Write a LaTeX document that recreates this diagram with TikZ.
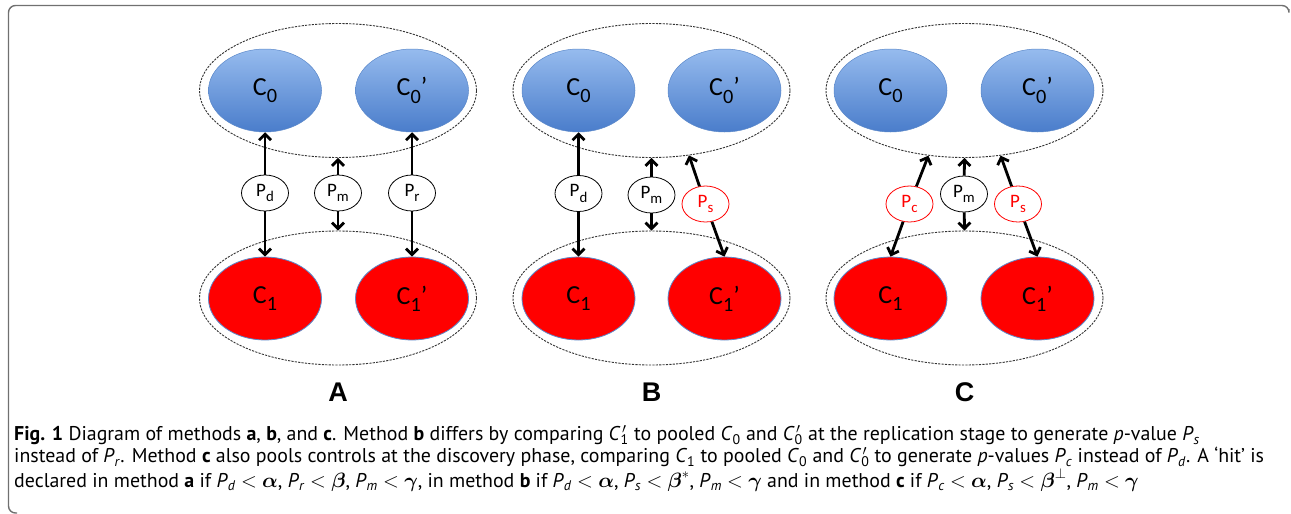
\documentclass[tikz,border=0pt]{standalone}
\usepackage{fontspec}
\usepackage{amsmath}
\setmainfont{PT Sans}
\newfontfamily\labfont{Carlito}
\newfontfamily\bigfont{Liberation Sans}
\usetikzlibrary{shapes.geometric,arrows.meta}
\definecolor{blueT}{HTML}{96BBEE}
\definecolor{blueB}{HTML}{4A7DCB}
\definecolor{blueE}{HTML}{5B88C9}
\definecolor{frameG}{HTML}{707070}
\newcommand{\Pv}[1]{\textit{P}\textsubscript{\textit{#1}}}
\newcommand{\Cz}[1]{\textit{C}\textsubscript{#1}}
\newcommand{\Cpr}[1]{\textit{C}\rlap{\textsuperscript{\kern0.1em$\prime$}}\textsubscript{#1}}
\newcommand{\lsub}[1]{\raisebox{-0.28em}{\scalebox{0.78}{#1}}}
\newcommand{\Lab}[1]{C\lsub{#1}}
\tikzset{
  grp/.style={ellipse, draw=black!80, dash pattern=on 2.2pt off 1.2pt, line width=0.9pt, minimum width=277pt, minimum height=134pt, inner sep=0pt},
  ctl/.style={ellipse, draw=blueE, line width=0.5pt, top color=blueT, bottom color=blueB, minimum width=113pt, minimum height=83pt, inner sep=0pt, font=\labfont\fontsize{26}{26}\selectfont},
  cas/.style={ellipse, draw=blueE, line width=0.8pt, fill=red, minimum width=113pt, minimum height=83pt, inner sep=0pt, font=\labfont\fontsize{26}{26}\selectfont},
  pv/.style={ellipse, draw=black, line width=0.8pt, fill=white, minimum width=47pt, minimum height=36pt, inner sep=0pt, font=\labfont\fontsize{19}{19}\selectfont},
  pvr/.style={pv, draw=red, text=red},
  arr/.style={line width=2.8pt, -{Straight Barb[length=6pt,width=12pt]}},
  panellab/.style={font=\bigfont\bfseries\fontsize{27}{27}\selectfont, anchor=base},
  captext/.style={anchor=base west, inner sep=0pt, align=left, font=\fontsize{19.9}{22}\selectfont},
}
\begin{document}
\begin{tikzpicture}[x=1pt,y=-1pt]
\useasboundingbox (0,0) rectangle (1291,514);
% frame
\draw[frameG, line width=1.4pt, rounded corners=7pt] (17,513) -- (8.5,513) -- (8.5,5.5) -- (1289,5.5) -- (1289,9);

% ---------- Panel A ----------
\node[grp] (topA) at (338,90.5) {};
\node[grp] (botA) at (338,298) {};
\node[ctl] (c0A) at (265,90.5) {\Lab{0}};
\node[ctl] (c0pA) at (412,90.5) {\Lab{0}’};
\node[cas] (c1A) at (265,298.5) {\Lab{1}};
\node[cas] (c1pA) at (412,298.5) {\Lab{1}’};
\node[pv] (pdA) at (265,193) {P\lsub{d}};
\node[pv] (pmA) at (338,193) {P\lsub{m}};
\node[pv] (prA) at (412,193) {P\lsub{r}};
\draw[arr] (pdA) -- (c0A.south);
\draw[arr] (pdA) -- (c1A.north);
\draw[arr] (pmA) -- (topA.south);
\draw[arr] (pmA) -- (botA.north);
\draw[arr] (prA) -- (c0pA.south);
\draw[arr] (prA) -- (c1pA.north);
\node[panellab] (labA) at (338,401) {A};

% ---------- Panel B ----------
\node[grp] (topB) at (651.5,90.5) {};
\node[grp] (botB) at (651.5,298) {};
\node[ctl] (c0B) at (578.5,90.5) {\Lab{0}};
\node[ctl] (c0pB) at (724.5,90.5) {\Lab{0}’};
\node[cas] (c1B) at (578.5,298.5) {\Lab{1}};
\node[cas] (c1pB) at (724.5,298.5) {\Lab{1}’};
\node[pv] (pdB) at (578.5,193.5) {P\lsub{d}};
\node[pv] (pmB) at (651.5,195) {P\lsub{m}};
\node[pvr] (psB) at (705.5,204) {P\lsub{s}};
\draw[arr] (pdB) -- (c0B.south);
\draw[arr] (pdB) -- (c1B.north);
\draw[arr] (pmB) -- (topB.south);
\draw[arr] (pmB) -- (botB.north);
\draw[arr] (psB) -- (topB.-60);
\draw[arr] (psB) -- (c1pB.north);
\node[panellab] (labB) at (651.5,401) {B};

% ---------- Panel C ----------
\node[grp] (topC) at (964.5,90.5) {};
\node[grp] (botC) at (964.5,298) {};
\node[ctl] (c0C) at (890.5,90.5) {\Lab{0}};
\node[ctl] (c0pC) at (1037.5,90.5) {\Lab{0}’};
\node[cas] (c1C) at (890.5,298.5) {\Lab{1}};
\node[cas] (c1pC) at (1037.5,298.5) {\Lab{1}’};
\node[pvr] (pcC) at (909.5,204) {P\lsub{c}};
\node[pv] (pmC) at (964,194) {P\lsub{m}};
\node[pvr] (psC) at (1018,204) {P\lsub{s}};
\draw[arr] (pcC) -- (topC.-119);
\draw[arr] (pcC) -- (c1C.north);
\draw[arr] (pmC) -- (topC.south);
\draw[arr] (pmC) -- (botC.north);
\draw[arr] (psC) -- (topC.-61);
\draw[arr] (psC) -- (c1pC.north);
\node[panellab] (labC) at (964.5,401) {C};

% ---------- caption ----------
\node[captext] (caption) at (14,487) {\textbf{Fig. 1} Diagram of methods \textbf{a}, \textbf{b}, and \textbf{c}. Method \textbf{b} differs by comparing \Cpr{1} to pooled \Cz{0} and \Cpr{0} at the replication stage to generate \textit{p}-value \Pv{s}\\
instead of \Pv{r}. Method \textbf{c} also pools controls at the discovery phase, comparing \Cz{1} to pooled \Cz{0} and \Cpr{0} to generate \textit{p}-values \Pv{c} instead of \Pv{d}. A ‘hit’ is\\
declared in method \textbf{a} if \Pv{d} $<$ $\boldsymbol{\alpha}$, \Pv{r} $<$ $\boldsymbol{\beta}$, \Pv{m} $<$ $\boldsymbol{\gamma}$, in method \textbf{b} if \Pv{d} $<$ $\boldsymbol{\alpha}$, \Pv{s} $<$ $\boldsymbol{\beta}^{*}$, \Pv{m} $<$ $\boldsymbol{\gamma}$ and in method \textbf{c} if \Pv{c} $<$ $\boldsymbol{\alpha}$, \Pv{s} $<$ $\boldsymbol{\beta}^{\perp}$, \Pv{m} $<$ $\boldsymbol{\gamma}$};
\end{tikzpicture}
\end{document}
